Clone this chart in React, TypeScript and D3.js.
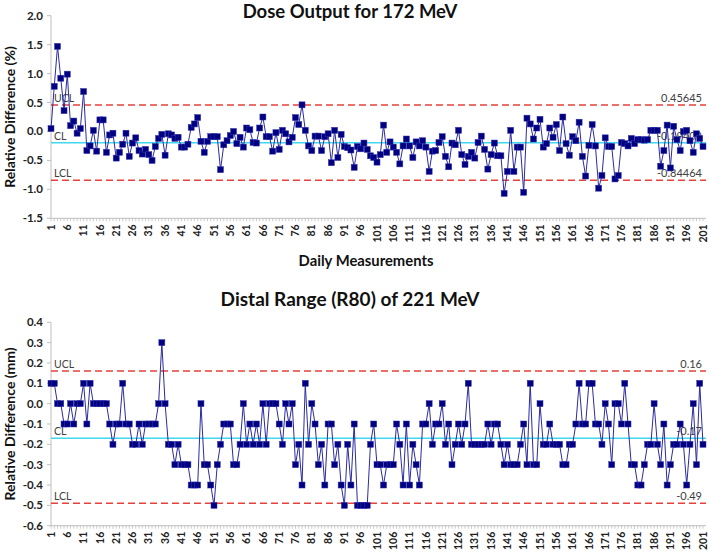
import React from "react";
import * as d3 from "d3";

const doseValues: number[] = [
  0.05, 0.78, 1.47, 0.92, 0.36, 0.99, 0.10, 0.18, -0.03, 0.05,
  0.69, -0.33, -0.25, 0.02, -0.34, 0.20, 0.20, -0.36, -0.06, -0.03,
  -0.46, -0.36, -0.22, -0.03, -0.43, -0.20, -0.11, -0.33, -0.39, -0.31,
  -0.40, -0.50, -0.26, -0.12, -0.05, -0.41, -0.04, -0.06, -0.12, -0.10,
  -0.27, -0.27, -0.22, 0.07, 0.13, 0.24, -0.17, -0.36, -0.17, -0.09,
  -0.09, -0.09, -0.66, -0.23, -0.16, -0.07, 0.00, -0.21, -0.10, -0.27,
  0.06, 0.03, -0.19, -0.20, 0.06, 0.25, -0.09, -0.09, -0.34, -0.02,
  -0.31, 0.02, -0.04, -0.18, -0.10, 0.24, 0.12, 0.46, 0.02, -0.25,
  -0.33, -0.08, -0.08, -0.33, -0.09, -0.04, -0.54, 0.02, -0.45, -0.05,
  -0.26, -0.28, -0.32, -0.62, -0.26, -0.30, -0.20, -0.31, -0.42, -0.45,
  -0.53, -0.40, 0.11, -0.36, -0.18, -0.27, -0.36, -0.56, -0.25, -0.13,
  -0.25, -0.45, -0.18, -0.25, -0.16, -0.27, -0.69, -0.34, -0.33, -0.19,
  -0.09, -0.43, -0.61, -0.20, -0.23, 0.02, -0.40, -0.57, -0.43, -0.36,
  -0.46, -0.19, -0.08, -0.31, -0.65, -0.40, -0.20, -0.42, -0.42, -1.07,
  -0.69, 0.02, -0.69, -0.27, -0.27, -1.05, 0.23, 0.13, -0.13, 0.06,
  0.21, -0.27, -0.21, 0.06, -0.10, 0.12, -0.33, 0.25, -0.21, -0.41,
  -0.09, -0.16, 0.16, -0.43, -0.77, -0.24, 0.12, -0.25, -0.98, -0.76,
  -0.11, -0.26, -0.26, -0.82, -0.76, -0.19, -0.21, -0.25, -0.12, -0.21,
  -0.14, -0.14, -0.15, -0.14, 0.02, 0.02, 0.02, -0.60, -0.33, 0.11,
  -0.63, 0.09, -0.14, -0.33, 0.00, 0.02, -0.16, -0.36, -0.04, -0.12,
  -0.26,
];

const rangeValues: number[] = [
  0.1, 0.1, 0, 0, -0.1, -0.1, 0, -0.1, 0, 0,
  0.1, -0.1, 0.1, 0, 0, 0, 0, 0, -0.1, -0.2,
  -0.1, -0.1, 0.1, -0.1, -0.1, -0.2, -0.2, -0.1, -0.2, -0.1,
  -0.1, -0.1, -0.1, 0, 0.3, 0, -0.2, -0.2, -0.3, -0.2,
  -0.3, -0.3, -0.3, -0.4, -0.4, -0.4, 0, -0.3, -0.3, -0.4,
  -0.5, -0.3, -0.2, -0.1, -0.1, -0.1, -0.3, -0.3, -0.2, 0,
  -0.2, -0.1, -0.2, -0.1, -0.2, 0, -0.2, 0, 0, 0,
  -0.1, -0.2, 0, -0.1, 0, -0.3, -0.2, -0.4, 0.1, -0.2,
  0, -0.1, -0.3, -0.2, -0.4, -0.1, -0.1, -0.3, -0.2, -0.4,
  -0.5, -0.2, -0.4, -0.1, -0.5, -0.5, -0.5, -0.5, -0.2, -0.1,
  -0.3, -0.3, -0.4, -0.3, -0.3, -0.3, -0.1, -0.2, -0.4, -0.1,
  -0.4, -0.2, -0.3, -0.4, -0.1, -0.1, 0, -0.2, -0.1, -0.1,
  0, -0.2, -0.1, -0.3, -0.2, -0.1, -0.2, -0.1, 0.1, -0.2,
  -0.2, -0.2, -0.2, -0.2, -0.1, -0.2, -0.1, -0.1, -0.2, -0.3,
  -0.2, -0.3, -0.3, -0.3, -0.2, -0.1, -0.3, 0.1, -0.3, -0.3,
  0, -0.2, -0.2, -0.1, -0.2, -0.2, -0.2, -0.3, -0.3, -0.2,
  -0.2, -0.1, 0.1, -0.1, -0.1, 0.1, 0.1, -0.1, -0.1, -0.2,
  0, -0.1, -0.3, 0, 0, -0.1, 0.1, -0.1, -0.3, -0.3,
  -0.4, -0.4, -0.3, -0.2, -0.2, 0, -0.2, -0.3, -0.1, -0.4,
  -0.3, -0.2, -0.2, -0.1, -0.2, -0.4, -0.2, 0, -0.3, 0.1,
  -0.2,
];

const doseTicks: number[] = [2.0, 1.5, 1.0, 0.5, 0.0, -0.5, -1.0, -1.5];
const rangeTicks: number[] = [0.4, 0.3, 0.2, 0.1, 0.0, -0.1, -0.2, -0.3, -0.4, -0.5, -0.6];
const doseLimits = { ucl: 0.45645, cl: -0.19409, lcl: -0.84464 };
const doseLimitLabels = ["0.45645", "-0.19409", "-0.84464"];
const rangeLimits = { ucl: 0.16, cl: -0.17, lcl: -0.49 };
const rangeLimitLabels = ["0.16", "-0.17", "-0.49"];

const FONT = "Lato, 'Open Sans', sans-serif";
const X0 = 51;
const X1 = 703;
const TITLE_CX = 350;

type PanelProps = {
  values: number[];
  ticks: number[];
  domain: [number, number];
  top: number;
  bottom: number;
  limits: { ucl: number; cl: number; lcl: number };
  limitLabels: string[];
  title: string;
  titleY: number;
  titleSize: number;
  yTitle: string;
  showXTitle: boolean;
};

function Panel(p: PanelProps) {
  const n = p.values.length;
  const x = d3.scaleLinear().domain([1, n]).range([X0, X1]);
  const y = d3.scaleLinear().domain(p.domain).range([p.bottom, p.top]);
  const line = d3
    .line<number>()
    .x((_, i) => x(i + 1))
    .y((d) => y(d));
  const cats = d3.range(1, n + 1);
  const labelCats = cats.filter((c) => (c - 1) % 5 === 0);
  const limitKeys: ("ucl" | "cl" | "lcl")[] = ["ucl", "cl", "lcl"];
  const leftNames = ["UCL", "CL", "LCL"];
  const midY = (p.top + p.bottom) / 2;
  return (
    <g>
      <text x={TITLE_CX} y={p.titleY} textAnchor="middle" fontFamily={FONT} fontWeight="bold" fontSize={p.titleSize} fill="#111">
        {p.title}
      </text>
      <text
        transform={`translate(15,${midY}) rotate(-90)`}
        textAnchor="middle"
        fontFamily={FONT}
        fontWeight="bold"
        fontSize={14}
        fill="#111"
      >
        {p.yTitle}
      </text>
      {/* y axis */}
      <line x1={X0} x2={X0} y1={p.top} y2={p.bottom} stroke="#bfbfbf" strokeWidth={1} />
      {p.ticks.map((t) => (
        <g key={t}>
          <line x1={X0 - 4} x2={X0} y1={y(t)} y2={y(t)} stroke="#bfbfbf" />
          <text x={X0 - 8} y={y(t)} dy="0.35em" textAnchor="end" fontFamily={FONT} fontWeight="bold" fontSize={11.5} fill="#222">
            {t.toFixed(1)}
          </text>
        </g>
      ))}
      {/* x axis */}
      <line x1={X0} x2={X1 + 3} y1={p.bottom} y2={p.bottom} stroke="#bfbfbf" strokeWidth={1} />
      {cats.map((c) => (
        <line key={c} x1={x(c)} x2={x(c)} y1={p.bottom} y2={p.bottom + 3} stroke="#bfbfbf" strokeWidth={0.8} />
      ))}
      {labelCats.map((c) => (
        <text
          key={c}
          transform={`translate(${x(c)},${p.bottom + 6}) rotate(-90)`}
          dy="0.35em"
          textAnchor="end"
          fontFamily={FONT}
          fontWeight="bold"
          fontSize={10.5}
          fill="#222"
        >
          {c}
        </text>
      ))}
      {p.showXTitle && (
        <text x={366} y={p.bottom + 48} textAnchor="middle" fontFamily={FONT} fontWeight="bold" fontSize={14.8} fill="#111">
          Daily Measurements
        </text>
      )}
      {/* control lines */}
      {limitKeys.map((k, i) => (
        <g key={k}>
          <line
            x1={X0}
            x2={X1 + 3}
            y1={y(p.limits[k])}
            y2={y(p.limits[k])}
            stroke={k === "cl" ? "#3fd8ee" : "#e8403a"}
            strokeWidth={1.5}
            strokeDasharray={k === "cl" ? undefined : "7,4"}
          />
          <text x={X0 + 3} y={y(p.limits[k]) - 3} fontFamily={FONT} fontSize={10.5} fill="#404040">
            {leftNames[i]}
          </text>
          <text x={X1 - 1} y={y(p.limits[k]) - 3} textAnchor="end" fontFamily={FONT} fontSize={11} fill="#404040">
            {p.limitLabels[i]}
          </text>
        </g>
      ))}
      {/* series */}
      <path d={line(p.values) || ""} fill="none" stroke="#2b2ba0" strokeWidth={1} />
      {p.values.map((v, i) => (
        <rect key={i} x={x(i + 1) - 3} y={y(v) - 3} width={6} height={6} fill="#000080" stroke="#3434b0" strokeWidth={0.5} />
      ))}
    </g>
  );
}

export default function App() {
  return (
    <svg width={709} height={552} style={{ position: "absolute", left: 0, top: 0, background: "#fff" }}>
      <rect width={709} height={552} fill="#fff" />
      <Panel
        values={doseValues}
        ticks={doseTicks}
        domain={[-1.5, 2.0]}
        top={15.7}
        bottom={218.3}
        limits={doseLimits}
        limitLabels={doseLimitLabels}
        title="Dose Output for 172 MeV"
        titleY={18}
        titleSize={18.5}
        yTitle="Relative Difference (%)"
        showXTitle={true}
      />
      <Panel
        values={rangeValues}
        ticks={rangeTicks}
        domain={[-0.6, 0.4]}
        top={322.3}
        bottom={525.7}
        limits={rangeLimits}
        limitLabels={rangeLimitLabels}
        title="Distal Range (R80) of 221 MeV"
        titleY={306}
        titleSize={19}
        yTitle="Relative Difference (mm)"
        showXTitle={false}
      />
    </svg>
  );
}
